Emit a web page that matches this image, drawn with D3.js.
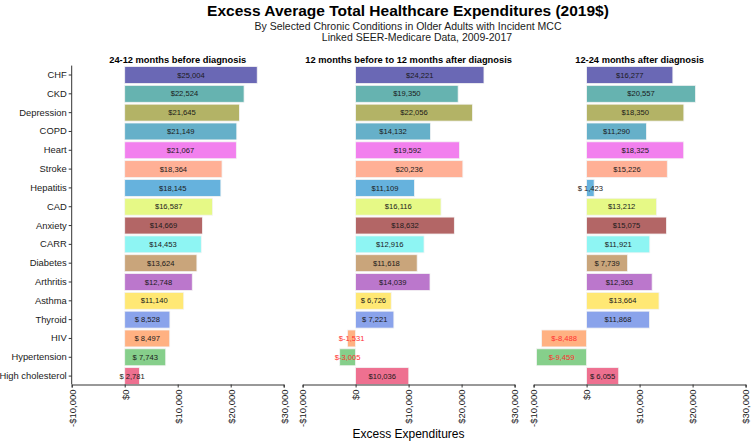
<!DOCTYPE html>
<html><head><meta charset="utf-8">
<script src="https://cdn.jsdelivr.net/npm/d3@7"></script>
<style>body{margin:0;background:#fff}svg{display:block}text{font-family:Arial,"Liberation Sans",sans-serif}</style>
</head><body><div id="chart"></div>
<script>
const categories = ["CHF","CKD","Depression","COPD","Heart","Stroke","Hepatitis","CAD","Anxiety","CARR","Diabetes","Arthritis","Asthma","Thyroid","HIV","Hypertension","High cholesterol"];
const colors = ["#6a68b5","#66b3b0","#b3b366","#66b0c9","#f280ee","#ffb096","#66b2dd","#e6f986","#b36666","#8ef5f3","#c9a57b","#bb77cc","#ffe874","#8aa3eb","#ffb182","#86cf8b","#ee7090"];
const panelTitles = ["24-12 months before diagnosis","12 months before to 12 months after diagnosis","12-24 months after diagnosis"];
const before = [25004,22524,21645,21149,21067,18364,18145,16587,14669,14453,13624,12748,11140,8528,8497,7743,2781];
const around = [24221,19350,22056,14132,19592,20236,11109,16116,18632,12916,11618,14039,6726,7221,-1531,-3005,10036];
const after = [16277,20557,18350,11290,18325,15226,1423,13212,15075,11921,7739,12363,13664,11868,-8488,-9459,6055];
const xTicks = [-10000,0,10000,20000,30000];
const series = [before, around, after];

const W = 752, H = 441;
const svg = d3.select("#chart").append("svg").attr("width", W).attr("height", H);

const panelLeft = [71.7, 302.6, 533.6], panelW = 212;
const yTop = 65.6, yBottom = 384.5;
const y = d3.scaleBand().domain(categories).range([yTop, yBottom + 1]).paddingInner(0.1).paddingOuter(0.05);

const fmtNum = d3.format(",");
function lbl(v){
  if (v < 0) return "$-" + fmtNum(-v);
  if (v < 10000) return "$ " + fmtNum(v);
  return "$" + fmtNum(v);
}
const tickFmt = v => (v < 0 ? "-$" : "$") + fmtNum(Math.abs(v));

svg.append("text").attr("x", 408).attr("y", 15.5).attr("text-anchor","middle")
  .attr("font-size", 15.5).attr("font-weight","bold").attr("fill","#000")
  .text("Excess Average Total Healthcare Expenditures (2019$)");
svg.append("text").attr("x", 408).attr("y", 30).attr("text-anchor","middle")
  .attr("font-size", 10.5).attr("fill","#1a1a1a")
  .text("By Selected Chronic Conditions in Older Adults with Incident MCC");
svg.append("text").attr("x", 417).attr("y", 41).attr("text-anchor","middle")
  .attr("font-size", 10.5).attr("fill","#1a1a1a")
  .text("Linked SEER-Medicare Data, 2009-2017");

series.forEach((vals, i) => {
  const x = d3.scaleLinear().domain([-10000, 30000]).range([panelLeft[i], panelLeft[i] + panelW]);
  const g = svg.append("g");
  const data = categories.map((c, j) => ({c, v: vals[j], col: colors[j]}));

  g.append("text").attr("x", panelLeft[i] + panelW/2).attr("y", 62.5).attr("text-anchor","middle")
    .attr("font-size", 9.3).attr("font-weight","bold").attr("fill","#000").text(panelTitles[i]);

  g.selectAll("rect").data(data).join("rect")
    .attr("x", d => x(Math.min(0, d.v)))
    .attr("width", d => Math.abs(x(d.v) - x(0)))
    .attr("y", d => y(d.c))
    .attr("height", y.bandwidth())
    .attr("fill", d => d.col)
    .attr("stroke", "#f4f4f4").attr("stroke-width", 0.8);

  g.selectAll("text.val").data(data).join("text").attr("class","val")
    .attr("x", d => x(d.v / 2))
    .attr("y", d => y(d.c) + y.bandwidth()/2)
    .attr("dy", "0.35em").attr("text-anchor","middle")
    .attr("font-size", 7.6)
    .attr("fill", d => d.v < 0 ? "#ff3030" : "#1a1a1a")
    .text(d => lbl(d.v));

  const ax = g.append("g").attr("transform", `translate(0,${yBottom})`)
    .call(d3.axisBottom(x).tickValues(xTicks).tickSize(3).tickPadding(2).tickFormat(tickFmt));
  ax.select(".domain").attr("stroke","#333").attr("stroke-width",1);
  ax.selectAll(".tick line").attr("stroke","#333");
  ax.selectAll(".tick text").attr("transform","rotate(-90)")
    .attr("text-anchor","end").attr("x", -5).attr("y", 0).attr("dy","0.35em")
    .attr("font-size", 9.5).attr("fill","#1a1a1a");

  if (i === 0) {
    const ay = g.append("g").attr("transform", `translate(${panelLeft[0]},0)`)
      .call(d3.axisLeft(y).tickSize(3).tickPadding(2));
    ay.select(".domain").attr("stroke","#333").attr("stroke-width",1)
      .attr("d", `M0,${yTop}V${yBottom}`);
    ay.selectAll(".tick line").attr("stroke","#333");
    ay.selectAll(".tick text").attr("font-size", 9.4).attr("fill","#1a1a1a");
  }
});

svg.append("text").attr("x", 408.5).attr("y", 437.5).attr("text-anchor","middle")
  .attr("font-size", 12).attr("fill","#000").text("Excess Expenditures");
</script></body></html>
